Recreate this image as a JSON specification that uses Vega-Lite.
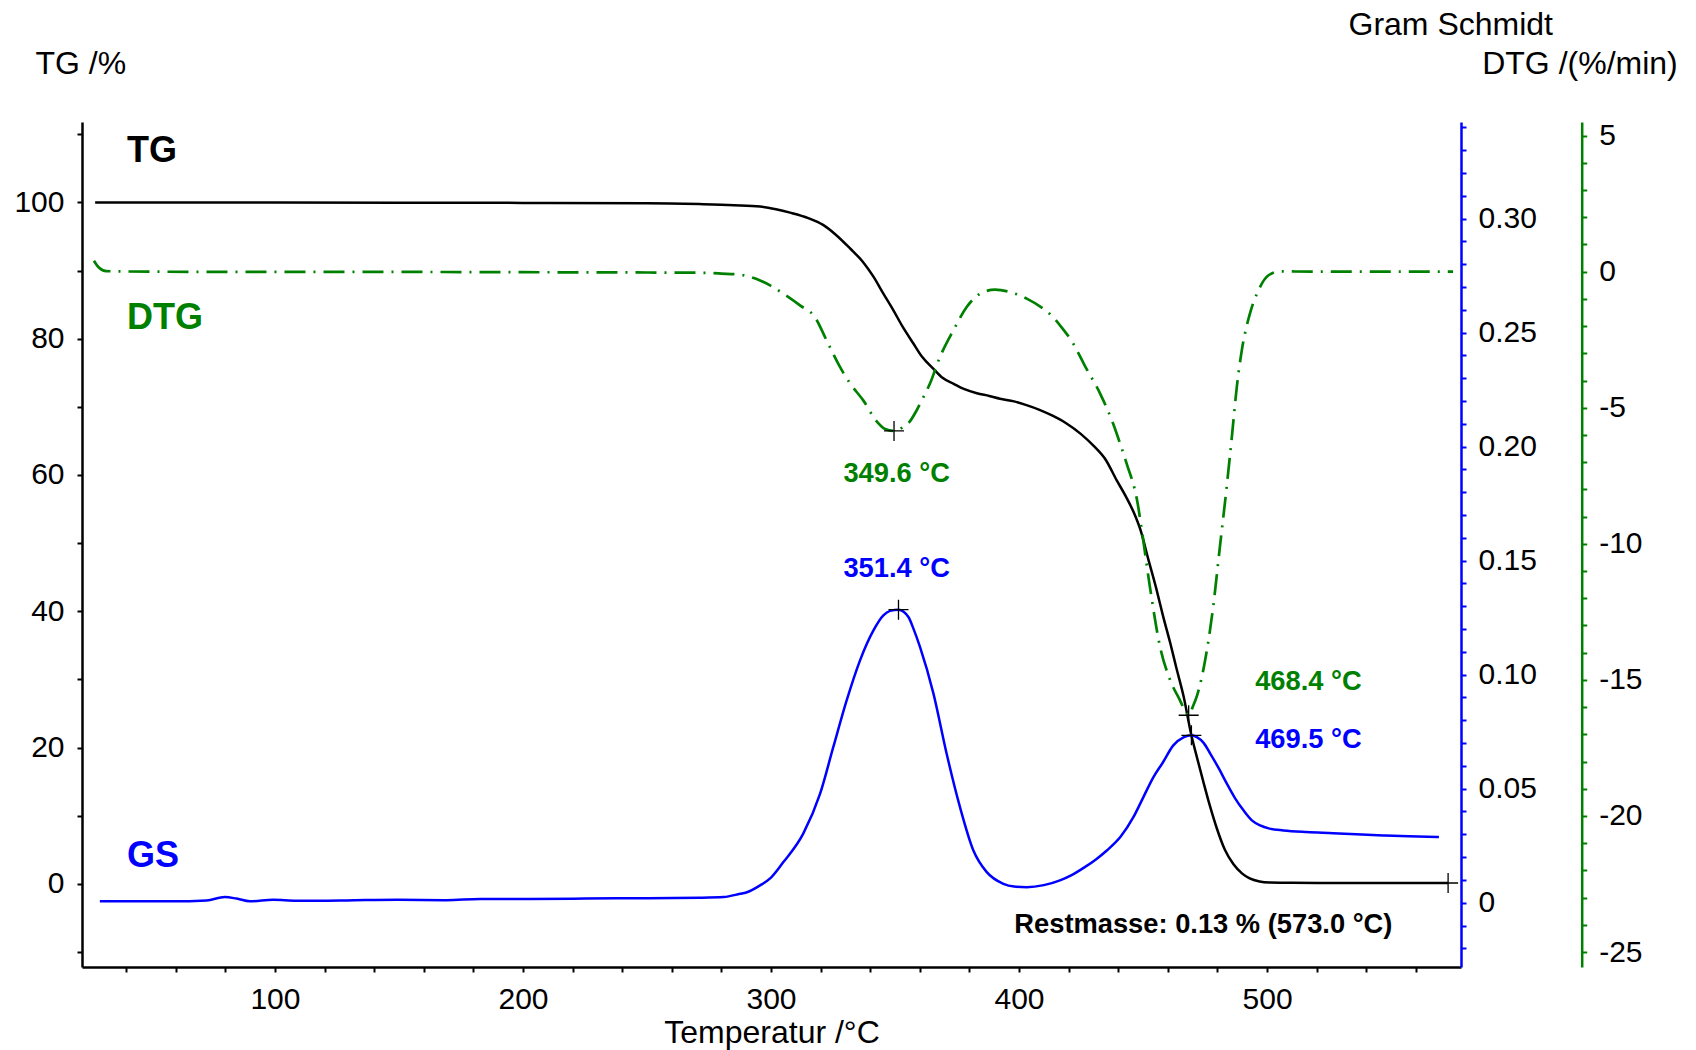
{
  "$schema": "https://vega.github.io/schema/vega-lite/v6.json",
  "width": 1379,
  "height": 845,
  "autosize": {"type": "none"},
  "padding": {"left": 82, "top": 122, "right": 235, "bottom": 83},
  "background": "white",
  "config": {
    "view": {"stroke": null},
    "font": "Liberation Sans",
    "axis": {
      "grid": false,
      "labelFont": "Liberation Sans",
      "labelFontSize": 30,
      "labelColor": "black",
      "titleFont": "Liberation Sans",
      "titleFontSize": 32,
      "titleFontWeight": "normal",
      "titleColor": "black",
      "labelOverlap": false,
      "tickSize": 5,
      "tickWidth": 2,
      "domainWidth": 2.5,
      "labelPadding": 12,
      "titleAngle": 0,
      "titleAlign": "left",
      "titleBaseline": "alphabetic"
    }
  },
  "datasets": {
    "tg": [
      {"T": 27.5, "TG": 100.0}, {"T": 40, "TG": 100.0}, {"T": 60, "TG": 100.0}, {"T": 80, "TG": 99.98},
      {"T": 100, "TG": 99.97}, {"T": 150, "TG": 99.95}, {"T": 200, "TG": 99.93}, {"T": 250, "TG": 99.88},
      {"T": 271, "TG": 99.75}, {"T": 285, "TG": 99.6}, {"T": 295.6, "TG": 99.4}, {"T": 302, "TG": 99.0},
      {"T": 307.7, "TG": 98.5}, {"T": 315, "TG": 97.7}, {"T": 321, "TG": 96.7}, {"T": 326, "TG": 95.3},
      {"T": 332, "TG": 93.2}, {"T": 337, "TG": 91.3}, {"T": 341.3, "TG": 89.1}, {"T": 345, "TG": 86.8},
      {"T": 349.3, "TG": 84.2}, {"T": 353, "TG": 81.8}, {"T": 357.4, "TG": 79.3}, {"T": 361, "TG": 77.3},
      {"T": 365.4, "TG": 75.6}, {"T": 369, "TG": 74.3}, {"T": 373.5, "TG": 73.4}, {"T": 378, "TG": 72.6},
      {"T": 383, "TG": 72.0}, {"T": 388, "TG": 71.6}, {"T": 392.3, "TG": 71.2}, {"T": 398, "TG": 70.8},
      {"T": 403, "TG": 70.25}, {"T": 408, "TG": 69.6}, {"T": 413.5, "TG": 68.7}, {"T": 419, "TG": 67.6},
      {"T": 425, "TG": 66.0}, {"T": 430, "TG": 64.3}, {"T": 435, "TG": 62.2}, {"T": 439.4, "TG": 59.2},
      {"T": 443, "TG": 56.9}, {"T": 446.5, "TG": 54.3}, {"T": 449, "TG": 51.9}, {"T": 452, "TG": 47.8},
      {"T": 455.5, "TG": 43.1}, {"T": 458, "TG": 39.4}, {"T": 461, "TG": 35.3}, {"T": 463.5, "TG": 31.6},
      {"T": 466.3, "TG": 27.6}, {"T": 469.5, "TG": 21.8}, {"T": 472, "TG": 18.2}, {"T": 474.3, "TG": 15.0},
      {"T": 477, "TG": 11.4}, {"T": 479.7, "TG": 8.2}, {"T": 483, "TG": 5.0}, {"T": 486.4, "TG": 2.9},
      {"T": 490, "TG": 1.5}, {"T": 493, "TG": 0.8}, {"T": 497, "TG": 0.35}, {"T": 501, "TG": 0.2},
      {"T": 510, "TG": 0.15}, {"T": 530, "TG": 0.14}, {"T": 550, "TG": 0.13}, {"T": 573, "TG": 0.13}
    ],
    "dtg": [
      {"T": 27, "DTG": 0.4}, {"T": 29, "DTG": 0.15}, {"T": 32, "DTG": 0.02}, {"T": 50, "DTG": 0.0},
      {"T": 100, "DTG": -0.01}, {"T": 150, "DTG": -0.01}, {"T": 200, "DTG": -0.02}, {"T": 250, "DTG": -0.03},
      {"T": 271.4, "DTG": -0.04}, {"T": 280, "DTG": -0.07}, {"T": 287.5, "DTG": -0.11}, {"T": 292, "DTG": -0.2},
      {"T": 295.6, "DTG": -0.32}, {"T": 300, "DTG": -0.52}, {"T": 305, "DTG": -0.81}, {"T": 311.7, "DTG": -1.24},
      {"T": 317.7, "DTG": -1.67}, {"T": 322.4, "DTG": -2.52}, {"T": 327.8, "DTG": -3.5}, {"T": 331.9, "DTG": -4.11},
      {"T": 337.2, "DTG": -4.73}, {"T": 342.6, "DTG": -5.5}, {"T": 346, "DTG": -5.78}, {"T": 349.6, "DTG": -5.85},
      {"T": 353.3, "DTG": -5.71}, {"T": 356, "DTG": -5.5}, {"T": 358.7, "DTG": -5.1}, {"T": 361.5, "DTG": -4.6},
      {"T": 364.1, "DTG": -4.11}, {"T": 368.1, "DTG": -3.14}, {"T": 373.5, "DTG": -2.16}, {"T": 378.9, "DTG": -1.3},
      {"T": 384.3, "DTG": -0.81}, {"T": 390.3, "DTG": -0.66}, {"T": 396.4, "DTG": -0.75}, {"T": 403.1, "DTG": -0.99},
      {"T": 409.8, "DTG": -1.36}, {"T": 413, "DTG": -1.6}, {"T": 416.5, "DTG": -1.97}, {"T": 421.9, "DTG": -2.65},
      {"T": 426.5, "DTG": -3.45}, {"T": 432.7, "DTG": -4.48}, {"T": 438, "DTG": -5.6}, {"T": 440.5, "DTG": -6.25},
      {"T": 443.4, "DTG": -7.05}, {"T": 447.8, "DTG": -8.5}, {"T": 449.5, "DTG": -9.5}, {"T": 452.8, "DTG": -11.6},
      {"T": 456.9, "DTG": -13.8}, {"T": 460.9, "DTG": -15.0}, {"T": 464.9, "DTG": -15.75}, {"T": 467.6, "DTG": -16.24},
      {"T": 468.4, "DTG": -16.3}, {"T": 470, "DTG": -16.0}, {"T": 471.7, "DTG": -15.6}, {"T": 475.0, "DTG": -14.3},
      {"T": 478.3, "DTG": -12.3}, {"T": 481.0, "DTG": -10.1}, {"T": 483.5, "DTG": -8.1}, {"T": 485.8, "DTG": -6.08},
      {"T": 487.8, "DTG": -4.24}, {"T": 489.8, "DTG": -2.9}, {"T": 493.1, "DTG": -1.54}, {"T": 496.5, "DTG": -0.69},
      {"T": 500.5, "DTG": -0.14}, {"T": 505.2, "DTG": 0.01}, {"T": 520, "DTG": 0.0}, {"T": 540, "DTG": 0.0},
      {"T": 560, "DTG": 0.0}, {"T": 575, "DTG": 0.0}
    ],
    "gs": [
      {"T": 29.4, "GS": 0.0006}, {"T": 45, "GS": 0.0006}, {"T": 58.5, "GS": 0.0006}, {"T": 72.4, "GS": 0.001},
      {"T": 79.8, "GS": 0.0025}, {"T": 84.5, "GS": 0.0018}, {"T": 89.9, "GS": 0.0006}, {"T": 99.3, "GS": 0.0013},
      {"T": 108.7, "GS": 0.0009}, {"T": 120, "GS": 0.0009}, {"T": 128.9, "GS": 0.001}, {"T": 149.1, "GS": 0.0013},
      {"T": 169.2, "GS": 0.0011}, {"T": 182.7, "GS": 0.0016}, {"T": 200, "GS": 0.0016}, {"T": 225, "GS": 0.0018},
      {"T": 250, "GS": 0.002}, {"T": 271.4, "GS": 0.0022}, {"T": 280.9, "GS": 0.0025}, {"T": 287.5, "GS": 0.0039},
      {"T": 290, "GS": 0.0045}, {"T": 295.6, "GS": 0.0076}, {"T": 300, "GS": 0.011}, {"T": 305, "GS": 0.0178},
      {"T": 313, "GS": 0.0303}, {"T": 319.8, "GS": 0.0478}, {"T": 325.1, "GS": 0.0682}, {"T": 330.5, "GS": 0.0887},
      {"T": 335.9, "GS": 0.1063}, {"T": 341.3, "GS": 0.1194}, {"T": 345.3, "GS": 0.126}, {"T": 348, "GS": 0.128},
      {"T": 351.4, "GS": 0.1285}, {"T": 355.4, "GS": 0.1253}, {"T": 357.5, "GS": 0.12}, {"T": 360.1, "GS": 0.1121},
      {"T": 365.5, "GS": 0.0917}, {"T": 370.8, "GS": 0.0654}, {"T": 376.2, "GS": 0.0419}, {"T": 381.6, "GS": 0.0229},
      {"T": 387, "GS": 0.0134}, {"T": 393.7, "GS": 0.0083}, {"T": 398, "GS": 0.0071}, {"T": 403.1, "GS": 0.0068},
      {"T": 410, "GS": 0.0077}, {"T": 416.5, "GS": 0.0098}, {"T": 421, "GS": 0.012}, {"T": 426.5, "GS": 0.0156},
      {"T": 431, "GS": 0.019}, {"T": 435.4, "GS": 0.0229}, {"T": 441, "GS": 0.029}, {"T": 446.1, "GS": 0.0375},
      {"T": 450, "GS": 0.046}, {"T": 454.2, "GS": 0.0551}, {"T": 458, "GS": 0.0615}, {"T": 462.2, "GS": 0.069},
      {"T": 466.3, "GS": 0.0725}, {"T": 469.5, "GS": 0.0734}, {"T": 471.7, "GS": 0.0726}, {"T": 474.5, "GS": 0.07},
      {"T": 477.1, "GS": 0.0654}, {"T": 480.5, "GS": 0.059}, {"T": 483.8, "GS": 0.0522}, {"T": 487, "GS": 0.046},
      {"T": 490.5, "GS": 0.0405}, {"T": 494, "GS": 0.036}, {"T": 497.2, "GS": 0.0339}, {"T": 501, "GS": 0.0325},
      {"T": 506.6, "GS": 0.0317}, {"T": 516, "GS": 0.031}, {"T": 526.7, "GS": 0.0305}, {"T": 536, "GS": 0.03},
      {"T": 546.9, "GS": 0.0295}, {"T": 557, "GS": 0.0291}, {"T": 569.3, "GS": 0.0288}
    ],
    "tgcross": [{"T": 573, "TG": 0.13}],
    "gscross": [{"T": 351.4, "GS": 0.1285}, {"T": 469.5, "GS": 0.0734}],
    "dtgcross": [{"T": 349.6, "DTG": -5.85}, {"T": 468.4, "DTG": -16.3}],
    "names": [
      {"T": 40.3, "TG": 105.9, "label": "TG", "series": "TG"},
      {"T": 40.3, "TG": 81.4, "label": "DTG", "series": "DTG"},
      {"T": 40.3, "TG": 2.5, "label": "GS", "series": "GS"}
    ],
    "notes": [
      {"T": 329.2, "TG": 59.0, "label": "349.6 °C", "series": "DTG"},
      {"T": 329.2, "TG": 45.05, "label": "351.4 °C", "series": "GS"},
      {"T": 495.2, "TG": 28.43, "label": "468.4 °C", "series": "DTG"},
      {"T": 495.2, "TG": 19.87, "label": "469.5 °C", "series": "GS"},
      {"T": 398.1, "TG": -7.28, "label": "Restmasse: 0.13 % (573.0 °C)", "series": "TG"}
    ]
  },
  "encoding": {
    "x": {
      "field": "T",
      "type": "quantitative",
      "scale": {"domain": [22.2, 578.2], "nice": false, "zero": false},
      "axis": {
        "title": "Temperatur /°C",
        "values": [40, 60, 80, 100, 120, 140, 160, 180, 200, 220, 240, 260, 280, 300, 320, 340, 360, 380, 400, 420, 440, 460, 480, 500, 520, 540, 560],
        "labelExpr": "datum.value % 100 == 0 ? datum.label : ''",
        "domainColor": "black",
        "tickColor": "black",
        "labelPadding": 12,
        "labelFlush": false,
        "titleX": 689.5,
        "titleY": 75,
        "titleAlign": "center"
      }
    }
  },
  "layer": [
    {
      "encoding": {
        "y": {
          "field": "TG",
          "type": "quantitative",
          "scale": {"domain": [-12.2, 111.8], "nice": false, "zero": false},
          "axis": {
            "orient": "left",
            "title": "TG /%",
            "values": [-10, 0, 10, 20, 30, 40, 50, 60, 70, 80, 90, 100, 110],
            "labelExpr": "datum.value % 20 == 0 ? datum.label : ''",
            "domainColor": "black",
            "tickColor": "black",
            "labelPadding": 13,
            "titleX": -47,
            "titleY": -49
          }
        }
      },
      "layer": [
        {"data": {"name": "tg"}, "mark": {"type": "line", "color": "black", "strokeWidth": 2.5, "interpolate": "monotone"}},
        {"data": {"name": "tgcross"}, "mark": {"type": "point", "shape": "M-1,0H1M0,-1V1", "size": 400, "color": "black", "stroke": "black", "strokeWidth": 1.3, "filled": false, "opacity": 1}},
        {
          "data": {"name": "names"},
          "mark": {"type": "text", "fontSize": 36, "fontWeight": "bold", "align": "left", "baseline": "alphabetic", "font": "Liberation Sans"},
          "encoding": {
            "text": {"field": "label"},
            "color": {"field": "series", "type": "nominal", "scale": {"domain": ["TG", "DTG", "GS"], "range": ["black", "#008000", "#0000ff"]}, "legend": null}
          }
        },
        {
          "data": {"name": "notes"},
          "mark": {"type": "text", "fontSize": 27.3, "fontWeight": "bold", "align": "left", "baseline": "alphabetic", "font": "Liberation Sans"},
          "encoding": {
            "text": {"field": "label"},
            "color": {"field": "series", "type": "nominal", "scale": {"domain": ["TG", "DTG", "GS"], "range": ["black", "#008000", "#0000ff"]}, "legend": null}
          }
        }
      ]
    },
    {
      "encoding": {
        "y": {
          "field": "GS",
          "type": "quantitative",
          "scale": {"domain": [-0.0282, 0.3424], "nice": false, "zero": false},
          "axis": {
            "orient": "right",
            "title": "Gram Schmidt",
            "values": [-0.02, -0.01, 0, 0.01, 0.02, 0.03, 0.04, 0.05, 0.06, 0.07, 0.08, 0.09, 0.1, 0.11, 0.12, 0.13, 0.14, 0.15, 0.16, 0.17, 0.18, 0.19, 0.2, 0.21, 0.22, 0.23, 0.24, 0.25, 0.26, 0.27, 0.28, 0.29, 0.3, 0.31, 0.32, 0.33, 0.34],
            "labelExpr": "datum.value == 0 ? '0' : (round(datum.value * 100) % 5 == 0 ? format(datum.value, '.2f') : '')",
            "domainColor": "#0000ff",
            "tickColor": "#0000ff",
            "titleX": -113,
            "titleY": -87.5
          }
        }
      },
      "layer": [
        {"data": {"name": "gs"}, "mark": {"type": "line", "color": "#0000ff", "strokeWidth": 2.5, "interpolate": "monotone"}},
        {"data": {"name": "gscross"}, "mark": {"type": "point", "shape": "M-1,0H1M0,-1V1", "size": 400, "color": "black", "stroke": "black", "strokeWidth": 1.3, "filled": false, "opacity": 1}}
      ]
    },
    {
      "encoding": {
        "y": {
          "field": "DTG",
          "type": "quantitative",
          "scale": {"domain": [-25.55, 5.5], "nice": false, "zero": false},
          "axis": {
            "orient": "right",
            "offset": 120.7,
            "title": "DTG /(%/min)",
            "values": [-25, -24, -23, -22, -21, -20, -19, -18, -17, -16, -15, -14, -13, -12, -11, -10, -9, -8, -7, -6, -5, -4, -3, -2, -1, 0, 1, 2, 3, 4, 5],
            "labelExpr": "datum.value % 5 == 0 ? '' + datum.value : ''",
            "domainColor": "#008000",
            "tickColor": "#008000",
            "titleX": -100,
            "titleY": -49
          }
        }
      },
      "layer": [
        {"data": {"name": "dtg"}, "mark": {"type": "line", "color": "#008000", "strokeWidth": 2.7, "strokeDash": [21, 8, 2, 8], "interpolate": "monotone"}},
        {"data": {"name": "dtgcross"}, "mark": {"type": "point", "shape": "M-1,0H1M0,-1V1", "size": 400, "color": "black", "stroke": "black", "strokeWidth": 1.3, "filled": false, "opacity": 1}}
      ]
    }
  ],
  "resolve": {"scale": {"y": "independent"}}
}
